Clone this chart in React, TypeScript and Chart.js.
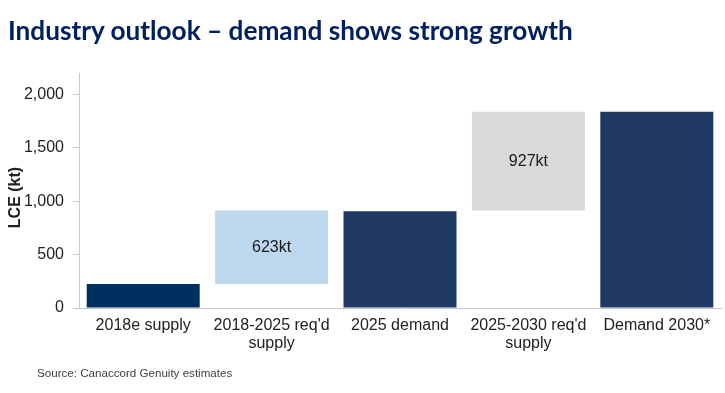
import React, { useEffect, useRef } from "react";
import { Chart, registerables } from "chart.js";

Chart.register(...registerables);

const categories: (string | string[])[] = [
  "2018e supply",
  ["2018-2025 req'd", "supply"],
  "2025 demand",
  ["2025-2030 req'd", "supply"],
  "Demand 2030*",
];
const barLow = [0, 224, 0, 912, 0];
const barHigh = [224, 912, 905, 1838, 1838];
const barLabels = ["", "623kt", "", "927kt", ""];
const barColors = ["#00305F", "#BDD7EE", "#1F3864", "#D9D9D9", "#1F3864"];
const yTickValues = [0, 500, 1000, 1500, 2000];

const TITLE = "Industry outlook \u2013 demand shows strong growth";
const SOURCE = "Source: Canaccord Genuity estimates";
const Y_TITLE = "LCE (kt)";

const FONT = "'Liberation Sans', Arial, sans-serif";

const barTextPlugin = {
  id: "barText",
  afterDatasetsDraw(chart: any) {
    const meta = chart.getDatasetMeta(0);
    const ctx = chart.ctx;
    ctx.save();
    ctx.font = `16px ${FONT}`;
    ctx.fillStyle = "#1a1a1a";
    ctx.textAlign = "center";
    ctx.textBaseline = "middle";
    meta.data.forEach((el: any, i: number) => {
      const t = barLabels[i];
      if (!t) return;
      const mid = (el.y + el.base) / 2;
      ctx.fillText(t, el.x, mid);
    });
    const area = chart.chartArea;
    ctx.translate(16, (area.top + area.bottom) / 2 + 7);
    ctx.rotate(-Math.PI / 2);
    ctx.font = `bold 16px ${FONT}`;
    ctx.fillStyle = "#222";
    ctx.fillText(Y_TITLE, 0, 0);
    ctx.restore();
  },
};

export default function App() {
  const ref = useRef<HTMLCanvasElement>(null);
  useEffect(() => {
    if (!ref.current) return;
    const chart = new Chart(ref.current, {
      type: "bar",
      data: {
        labels: categories as any,
        datasets: [
          {
            data: barLow.map((lo, i) => [lo, barHigh[i]]) as any,
            backgroundColor: barColors,
            borderWidth: 0,
            barPercentage: 0.88,
            categoryPercentage: 1,
          },
        ],
      },
      options: {
        animation: false,
        responsive: false,
        maintainAspectRatio: false,
        layout: { padding: { left: 0, right: 4, top: 73, bottom: 0 } },
        plugins: {
          legend: { display: false },
          tooltip: { enabled: false },
          title: { display: false },
        },
        scales: {
          x: {
            grid: { display: false, drawTicks: false },
            border: { display: true, color: "#C8C8C8", width: 1 },
            ticks: {
              color: "#222",
              font: { family: FONT, size: 16, lineHeight: 1.12 },
              padding: 9,
              maxRotation: 0,
              autoSkip: false,
            },
            afterFit: (s: any) => {
              s.height = 85;
            },
          },
          y: {
            min: 0,
            max: 2200,
            afterBuildTicks: (s: any) => {
              s.ticks = yTickValues.map((v) => ({ value: v }));
            },
            grid: {
              drawOnChartArea: false,
              drawTicks: true,
              tickLength: 6,
              color: "#C8C8C8",
            },
            border: { display: true, color: "#C8C8C8", width: 1 },
            ticks: {
              color: "#222",
              font: { family: FONT, size: 16 },
              padding: 9,
              callback: (v: any) => Number(v).toLocaleString("en-US"),
            },
            title: { display: false },
            afterFit: (s: any) => {
              s.width = 79;
            },
          },
        },
      },
      plugins: [barTextPlugin],
    });
    return () => chart.destroy();
  }, []);

  return (
    <div style={{ position: "fixed", left: 0, top: 0, width: 725, height: 393, background: "#fff" }}>
      <canvas ref={ref} width={725} height={393} style={{ position: "absolute", left: 0, top: 0, width: 725, height: 393 }} />
      <div
        style={{
          position: "absolute",
          left: 8,
          top: 15,
          fontFamily: "Lato, 'Open Sans', sans-serif",
          fontWeight: 700,
          fontSize: 26.2,
          lineHeight: "31px",
          color: "#002060",
          whiteSpace: "nowrap",
        }}
      >
        {TITLE}
      </div>
      <div
        style={{
          position: "absolute",
          left: 37,
          top: 366,
          fontFamily: FONT,
          fontSize: 11.6,
          lineHeight: "14px",
          color: "#404040",
          whiteSpace: "nowrap",
        }}
      >
        {SOURCE}
      </div>
    </div>
  );
}
